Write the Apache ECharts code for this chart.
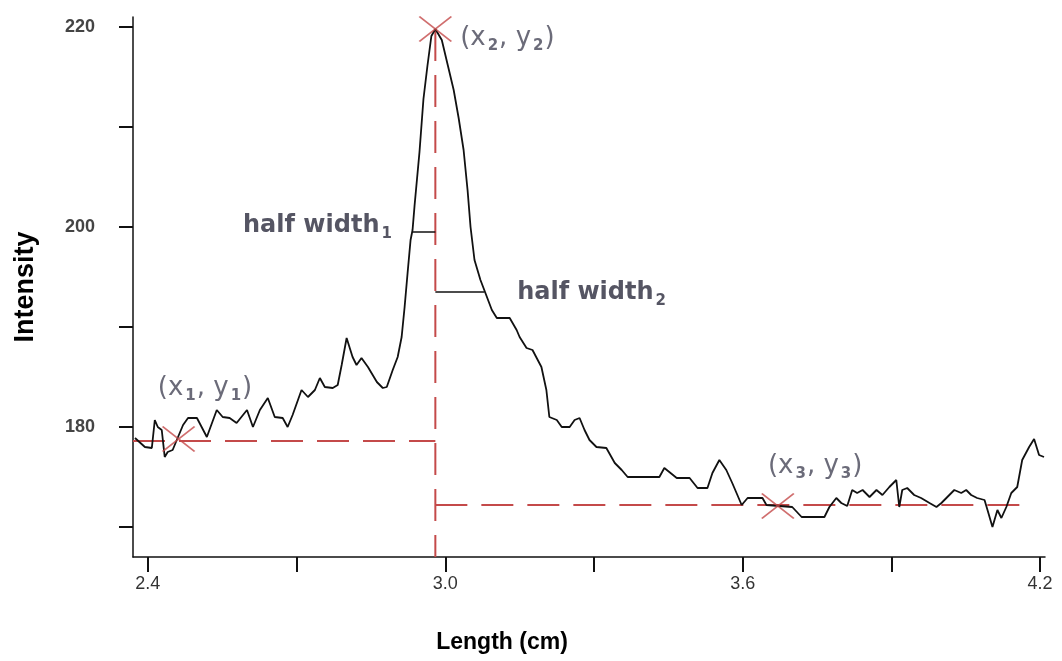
<!DOCTYPE html>
<html><head><meta charset="utf-8">
<script src="https://cdn.jsdelivr.net/npm/echarts@6/dist/echarts.min.js"></script>
<style>html,body{margin:0;padding:0;background:#fff}#c{width:1062px;height:661px}</style>
</head><body><div id="c"></div>
<script>
// ---- data ----
const lengthCm = [2.374,2.394,2.408,2.414,2.420,2.428,2.434,2.440,2.450,2.460,2.471,2.481,2.499,2.519,2.539,2.551,2.565,2.579,2.600,2.612,2.626,2.642,2.656,2.672,2.682,2.692,2.710,2.723,2.737,2.747,2.757,2.773,2.783,2.791,2.801,2.813,2.821,2.831,2.844,2.862,2.874,2.882,2.894,2.904,2.912,2.918,2.924,2.930,2.934,2.938,2.948,2.956,2.964,2.972,2.980,2.993,3.005,3.017,3.027,3.037,3.045,3.051,3.059,3.071,3.081,3.094,3.104,3.130,3.144,3.150,3.164,3.176,3.194,3.204,3.210,3.225,3.235,3.251,3.261,3.271,3.281,3.291,3.305,3.325,3.342,3.356,3.368,3.432,3.442,3.452,3.467,3.493,3.509,3.529,3.539,3.553,3.567,3.579,3.598,3.610,3.640,3.648,3.674,3.700,3.719,3.765,3.775,3.789,3.799,3.811,3.821,3.831,3.842,3.856,3.870,3.882,3.896,3.910,3.916,3.922,3.932,3.946,3.960,3.977,3.991,4.001,4.013,4.027,4.041,4.051,4.061,4.073,4.088,4.094,4.104,4.114,4.122,4.132,4.142,4.154,4.164,4.178,4.188,4.198,4.208];
const intensity = [178.9,178.0,177.9,180.7,180.0,179.7,177.0,177.5,177.7,178.9,180.2,180.9,180.9,179.0,181.7,181.0,180.9,180.4,181.7,180.0,181.7,182.9,181.0,180.9,180.0,181.2,183.7,183.0,183.7,184.9,184.0,183.9,184.2,186.2,188.9,187.0,186.2,186.9,186.0,184.5,183.9,184.0,185.7,187.0,189.0,192.0,195.4,198.7,199.7,202.1,207.5,212.8,216.1,219.1,219.8,218.7,216.2,213.7,210.9,207.7,203.7,200.0,196.7,194.7,193.4,191.7,190.9,190.9,189.7,189.0,187.9,187.7,186.0,183.7,181.0,180.7,180.0,180.0,180.7,180.9,179.7,178.7,178.0,177.9,176.4,175.7,175.0,175.0,175.9,175.5,174.9,174.9,173.9,173.9,175.4,176.7,175.7,174.4,172.2,172.9,172.9,172.2,172.1,172.0,171.0,171.0,172.0,172.9,172.4,172.1,173.7,173.4,173.7,173.0,173.7,173.2,174.0,174.7,172.0,173.7,173.9,173.2,172.9,172.4,172.0,172.4,173.0,173.7,173.4,173.7,173.2,172.9,172.7,171.7,170.0,171.7,170.9,172.0,173.4,174.0,176.7,178.0,178.8,177.2,177.0];

const xTickValues = [2.4, 2.7, 3.0, 3.3, 3.6, 3.9, 4.2];
const xLabelValues = [2.4, 3.0, 3.6, 4.2];
const yTickValues = [170, 180, 190, 200, 210, 220];
const yLabelValues = [180, 200, 220];

// marked points (x1,y1), (x2,y2), (x3,y3)
const pointX = [2.462, 2.98, 3.671];
const pointY = [178.8, 219.8, 172.1];
// reference (dashed) lines
const peakX = 2.98;
const leftBaseY = 178.6;
const rightBaseY = 172.2;
const rightBaseEndX = 4.175;
// half-width segments [xStart, xEnd, y]
const halfWidth1 = [2.933, 2.98, 199.5];
const halfWidth2 = [2.98, 3.079, 193.5];
// annotation anchors (left edge, middle)
const annText = ['(x{s|1}, y{s|1})', '(x{s|2}, y{s|2})', 'half width{s|1}', 'half width{s|2}', '(x{s|3}, y{s|3})'];
const annX = [2.42, 3.03, 2.592, 3.145, 3.651];
const annY = [183.9, 218.9, 200.1, 193.4, 176.1];
const annKind = ['pt', 'pt', 'hw', 'hw', 'pt'];

// ---- chart ----
const RED = '#c44a4a';
const curve = lengthCm.map((x, i) => [x, intensity[i]]);
const dash = [32, 14];

const chart = echarts.init(document.getElementById('c'), null, {renderer: 'canvas'});
const ptStyle = {fontFamily: 'DejaVu Sans', fontSize: 26, color: '#464658'};
const hwStyle = {fontFamily: 'DejaVu Sans', fontSize: 24, fontWeight: 'bold', color: '#2a2a3c'};
function richFor(kind) {
  const base = kind === 'pt' ? ptStyle : hwStyle;
  return {
    s: {fontFamily: 'DejaVu Sans', fontSize: 15, fontWeight: 'bold', color: base.color, padding: [16, 1, 0, 2]}
  };
}

chart.setOption({
  animation: false,
  backgroundColor: '#fff',
  grid: {left: 133, right: 17, top: 17, bottom: 104, containLabel: false},
  xAxis: {
    type: 'value', min: 2.37, max: 4.21,
    name: 'Length (cm)', nameLocation: 'middle', nameGap: 74,
    nameTextStyle: {fontFamily: 'Liberation Sans', fontWeight: 'bold', fontSize: 23, color: '#000', padding: [0, 174, 0, 0]},
    axisLine: {show: true, onZero: false, lineStyle: {color: '#111', width: 1.5}},
    axisTick: {show: true, inside: false, length: 15, customValues: xTickValues, lineStyle: {color: '#111', width: 2}},
    axisLabel: {customValues: xLabelValues, margin: 18, formatter: v => Number(v).toFixed(1),
      fontFamily: 'Liberation Sans', fontSize: 18, color: '#333'},
    splitLine: {show: false}
  },
  yAxis: {
    type: 'value', min: 167, max: 221,
    name: 'Intensity', nameLocation: 'middle', nameGap: 94,
    nameTextStyle: {fontFamily: 'Liberation Sans', fontWeight: 'bold', fontSize: 27, color: '#000'},
    axisLine: {show: true, onZero: false, lineStyle: {color: '#111', width: 1.5}},
    axisTick: {show: true, inside: false, length: 14, customValues: yTickValues, lineStyle: {color: '#111', width: 2}},
    axisLabel: {customValues: yLabelValues, margin: 38,
      fontFamily: 'Liberation Sans', fontWeight: 'bold', fontSize: 18, color: '#444'},
    splitLine: {show: false}
  },
  series: [
    {type: 'line', name: 'leftBase', data: [[2.37, leftBaseY], [peakX, leftBaseY]], showSymbol: false, silent: true,
      lineStyle: {color: RED, width: 2, type: dash}, z: 2},
    {type: 'line', name: 'peakLine', data: [[peakX, pointY[1]], [peakX, 167]], showSymbol: false, silent: true,
      lineStyle: {color: RED, width: 2, type: dash}, z: 2},
    {type: 'line', name: 'rightBase', data: [[peakX, rightBaseY], [rightBaseEndX, rightBaseY]], showSymbol: false, silent: true,
      lineStyle: {color: RED, width: 2, type: dash}, z: 2},
    {type: 'line', name: 'intensity', data: curve, showSymbol: false, silent: true,
      lineStyle: {color: '#111', width: 1.8}, z: 3},
    {type: 'line', name: 'hw1', data: [[halfWidth1[0], halfWidth1[2]], [halfWidth1[1], halfWidth1[2]]], showSymbol: false, silent: true,
      lineStyle: {color: '#111', width: 1.6}, z: 3},
    {type: 'line', name: 'hw2', data: [[halfWidth2[0], halfWidth2[2]], [halfWidth2[1], halfWidth2[2]]], showSymbol: false, silent: true,
      lineStyle: {color: '#111', width: 1.6}, z: 3},
    {type: 'scatter', name: 'points', data: pointX.map((x, i) => [x, pointY[i]]), silent: true,
      symbol: 'path://M0,0L30,24M30,0L0,24', symbolSize: [32, 25],
      itemStyle: {color: 'rgba(0,0,0,0)', borderColor: RED, borderWidth: 1.8}, z: 4},
    {type: 'scatter', name: 'annotations', silent: true, symbolSize: 1,
      itemStyle: {color: 'rgba(0,0,0,0)'}, z: 5,
      data: annX.map((x, i) => ({
        value: [x, annY[i]],
        label: Object.assign({show: true, position: 'inside', align: 'left', verticalAlign: 'middle',
          formatter: annText[i], rich: richFor(annKind[i])}, annKind[i] === 'pt' ? ptStyle : hwStyle)
      }))}
  ]
});
</script></body></html>
